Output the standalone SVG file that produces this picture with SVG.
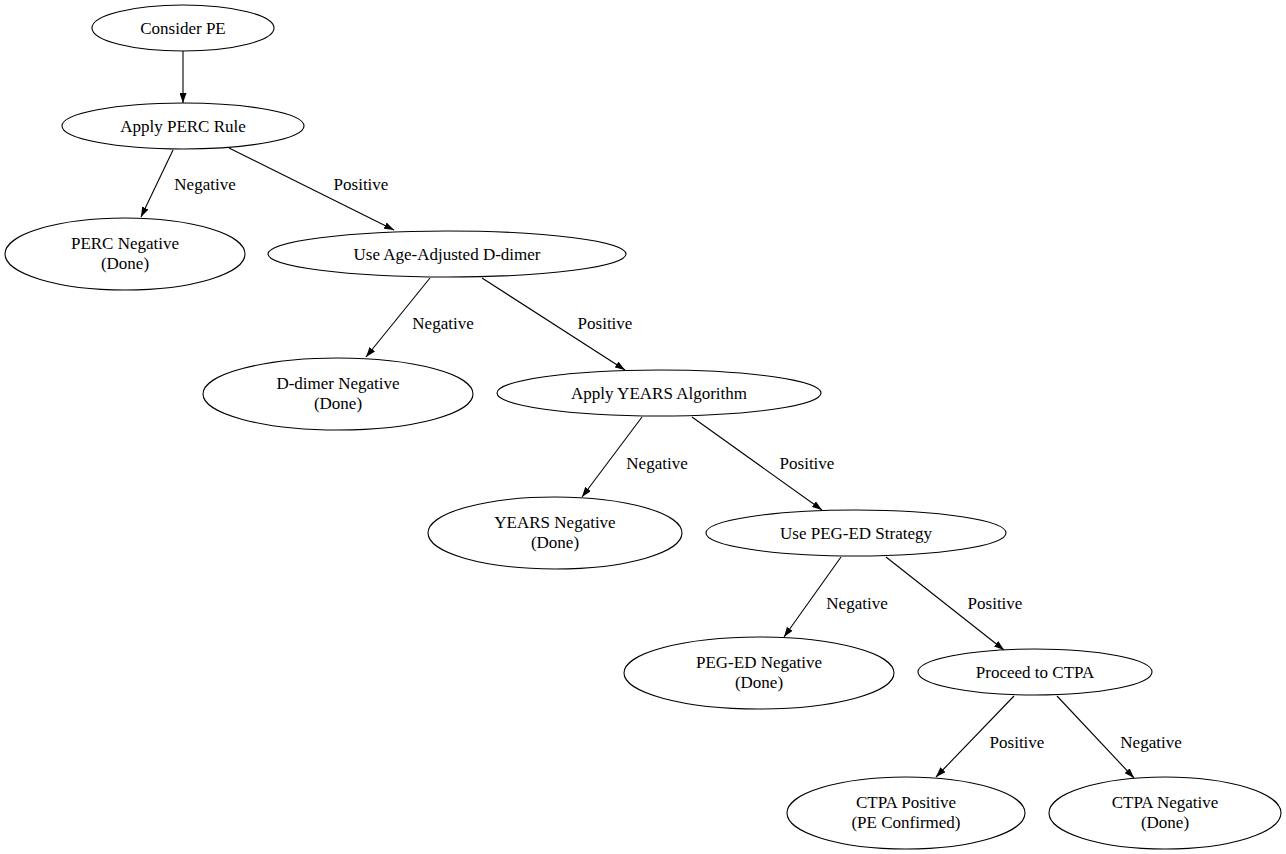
<svg xmlns="http://www.w3.org/2000/svg" width="1286" height="854" viewBox="0 0 1286 854">
<style>
ellipse{fill:none;stroke:#000;stroke-width:1.1}
text{font-family:"Liberation Serif","Times New Roman",serif;font-size:17px;text-anchor:middle;fill:#000}
line{stroke:#000;stroke-width:1.1;marker-end:url(#a)}
</style>
<defs><marker id="a" viewBox="0 0 10 7" refX="10" refY="3.5" markerWidth="10" markerHeight="7" markerUnits="userSpaceOnUse" orient="auto"><path d="M0,0L10,3.5L0,7z" fill="#000"/></marker></defs>
<rect width="1286" height="854" fill="#fff"/>
<g id="connectors">
<line x1="183" y1="51" x2="183" y2="103"/>
<line x1="173" y1="150" x2="141" y2="217"/><text x="205" y="190">Negative</text>
<line x1="229" y1="148" x2="394" y2="230"/><text x="361" y="190">Positive</text>
<line x1="430" y1="278" x2="366" y2="357"/><text x="443" y="329">Negative</text>
<line x1="482" y1="278" x2="625" y2="370"/><text x="605" y="329">Positive</text>
<line x1="642" y1="417" x2="582" y2="497"/><text x="657" y="469">Negative</text>
<line x1="692" y1="417" x2="822" y2="510"/><text x="807" y="469">Positive</text>
<line x1="841" y1="557" x2="784" y2="637"/><text x="857" y="609">Negative</text>
<line x1="886" y1="557" x2="1004" y2="650"/><text x="995" y="609">Positive</text>
<line x1="1014" y1="696" x2="936" y2="777"/><text x="1017" y="748">Positive</text>
<line x1="1057" y1="696" x2="1134" y2="778"/><text x="1151" y="748">Negative</text>
</g>
<g id="n1"><ellipse cx="183" cy="28" rx="91" ry="23"/><text x="183" y="34">Consider PE</text></g>
<g id="n2"><ellipse cx="183" cy="126" rx="121" ry="23"/><text x="183" y="132">Apply PERC Rule</text></g>
<g id="n3"><ellipse cx="125" cy="254" rx="120" ry="36"/><text x="125" y="249">PERC Negative</text><text x="125" y="269">(Done)</text></g>
<g id="n4"><ellipse cx="447" cy="254" rx="179" ry="23"/><text x="447" y="260">Use Age-Adjusted D-dimer</text></g>
<g id="n5"><ellipse cx="338" cy="394" rx="135" ry="36"/><text x="338" y="389">D-dimer Negative</text><text x="338" y="409">(Done)</text></g>
<g id="n6"><ellipse cx="659" cy="393" rx="162" ry="23"/><text x="659" y="399">Apply YEARS Algorithm</text></g>
<g id="n7"><ellipse cx="555" cy="533" rx="127" ry="36"/><text x="555" y="528">YEARS Negative</text><text x="555" y="548">(Done)</text></g>
<g id="n8"><ellipse cx="856" cy="533" rx="150" ry="23"/><text x="856" y="539">Use PEG-ED Strategy</text></g>
<g id="n9"><ellipse cx="759" cy="673" rx="135" ry="36"/><text x="759" y="668">PEG-ED Negative</text><text x="759" y="688">(Done)</text></g>
<g id="n10"><ellipse cx="1035" cy="672" rx="117" ry="23"/><text x="1035" y="678">Proceed to CTPA</text></g>
<g id="n11"><ellipse cx="906" cy="813" rx="119" ry="36"/><text x="906" y="808">CTPA Positive</text><text x="906" y="828">(PE Confirmed)</text></g>
<g id="n12"><ellipse cx="1165" cy="813" rx="116" ry="36"/><text x="1165" y="808">CTPA Negative</text><text x="1165" y="828">(Done)</text></g>
</svg>
